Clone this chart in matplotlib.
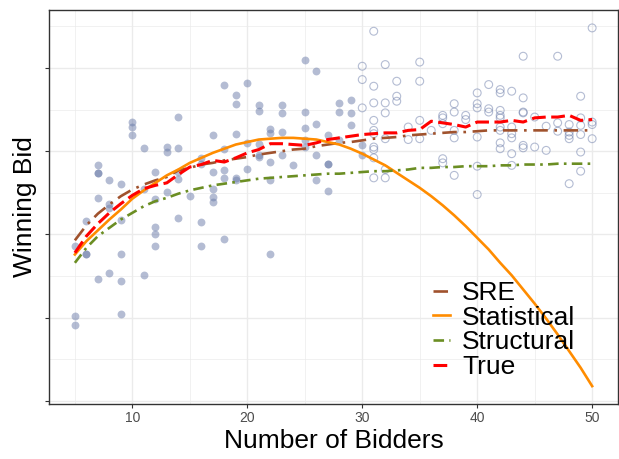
import numpy as np
import matplotlib
matplotlib.use("Agg")
import matplotlib.pyplot as plt

plt.rcParams['font.family'] = ['Liberation Sans', 'DejaVu Sans']

# auction data: winning bid vs number of bidders
filled_x = [5, 5, 5, 6, 6, 6, 7, 7, 7, 7, 7, 8, 8, 8, 8, 9, 9, 9, 9, 9,
            10, 10, 10, 11, 11, 11, 12, 12, 12, 12, 12, 13, 13, 13,
            14, 14, 14, 14, 14, 15, 16, 16, 16, 16, 17, 17, 17, 17, 17,
            18, 18, 18, 18, 18, 19, 19, 19, 19, 19, 20, 20, 20,
            21, 21, 21, 21, 21, 22, 22, 22, 22, 22, 23, 23, 23, 23, 24,
            25, 25, 25, 25, 25, 26, 26, 26, 26, 27, 27, 27, 27,
            28, 28, 28, 29, 29, 29, 30, 30]
filled_y = [1.86, 1.02, 0.91, 2.16, 1.77, 1.77, 2.84, 2.74, 2.74, 2.44, 1.46,
            2.65, 2.37, 2.32, 1.54, 2.61, 2.18, 1.76, 1.44, 1.04,
            3.35, 3.29, 3.19, 3.04, 2.55, 1.51, 2.75, 2.43, 2.09, 2.00, 1.86,
            3.05, 2.99, 2.51, 3.41, 3.04, 2.75, 2.67, 2.20, 2.46,
            2.92, 2.85, 2.15, 1.86, 3.19, 2.75, 2.55, 2.45, 2.39,
            3.80, 3.03, 2.77, 2.68, 1.94, 3.67, 3.57, 3.21, 2.68, 2.65,
            3.82, 3.10, 2.79, 3.56, 3.48, 3.09, 2.95, 2.93,
            3.27, 3.22, 2.87, 2.66, 1.77, 3.56, 3.46, 3.23, 2.95, 2.83,
            4.10, 3.47, 3.28, 3.14, 3.05, 3.96, 3.33, 2.96, 2.66,
            3.20, 2.85, 2.85, 2.52, 3.58, 3.47, 3.14, 3.61, 3.46, 3.32,
            3.08, 2.95]

hollow_x = [30, 30, 30, 31, 31, 31, 31, 31, 31, 31, 31, 31, 31,
            32, 32, 32, 32, 32, 32, 33, 33, 33, 34, 34, 35, 35, 35, 35, 36,
            37, 37, 37, 37, 37, 38, 38, 38, 38, 38, 39, 39,
            40, 40, 40, 40, 40, 40, 41, 41, 41,
            42, 42, 42, 42, 42, 42, 42, 42, 42, 43, 43, 43, 43, 43, 43,
            44, 44, 44, 44, 44, 44, 45, 45, 46, 46, 47, 47, 47,
            48, 48, 48, 48, 48, 49, 49, 49, 49, 49, 49, 50, 50, 50, 50]
hollow_y = [4.02, 3.86, 3.52, 4.44, 3.78, 3.58, 3.37, 3.25, 3.21, 3.05, 3.02, 2.92, 2.68,
            4.04, 3.58, 3.46, 3.15, 2.78, 2.68, 3.84, 3.66, 3.60, 3.29, 3.14,
            4.07, 3.84, 3.37, 3.15, 3.25,
            3.43, 3.40, 3.33, 2.91, 2.86, 3.57, 3.47, 3.25, 3.16, 2.71, 3.43, 3.38,
            3.70, 3.57, 3.52, 3.17, 2.82, 2.48, 3.80, 3.51, 3.47,
            3.74, 3.70, 3.49, 3.43, 3.40, 3.29, 3.25, 3.10, 3.03,
            3.72, 3.29, 3.21, 3.16, 2.97, 2.83,
            4.14, 3.64, 3.47, 3.46, 3.07, 3.04, 3.41, 3.05, 3.30, 3.01,
            4.14, 3.34, 3.24, 3.32, 3.23, 3.19, 3.15, 2.61,
            3.66, 3.40, 3.31, 3.20, 2.99, 2.76, 4.48, 3.35, 3.32, 3.15]

# fitted curves, one value per number of bidders (5..50)
bidders = np.arange(5, 51)
sre = [1.93, 2.11, 2.25, 2.36, 2.46, 2.54, 2.60, 2.65, 2.69, 2.77,
       2.80, 2.84, 2.86, 2.89, 2.91, 2.93, 2.96, 2.98, 3.00, 3.02,
       3.03, 3.06, 3.08, 3.10, 3.11, 3.13, 3.15, 3.16, 3.17, 3.19,
       3.20, 3.21, 3.22, 3.23, 3.23, 3.24, 3.25, 3.25, 3.25, 3.25,
       3.25, 3.25, 3.25, 3.25, 3.25, 3.25]
statistical = [1.76, 1.92, 2.05, 2.18, 2.30, 2.43, 2.53, 2.62, 2.71, 2.78,
               2.86, 2.92, 2.98, 3.03, 3.08, 3.11, 3.14, 3.15, 3.16, 3.16,
               3.15, 3.14, 3.11, 3.08, 3.03, 2.97, 2.90, 2.83, 2.74, 2.65,
               2.56, 2.46, 2.35, 2.23, 2.10, 1.96, 1.82, 1.66, 1.51, 1.34,
               1.17, 0.99, 0.80, 0.60, 0.40, 0.18]
structural = [1.66, 1.84, 1.98, 2.08, 2.18, 2.26, 2.34, 2.40, 2.44, 2.49,
              2.53, 2.56, 2.59, 2.61, 2.63, 2.65, 2.67, 2.68, 2.69, 2.70,
              2.71, 2.72, 2.73, 2.73, 2.74, 2.75, 2.76, 2.76, 2.77, 2.78,
              2.80, 2.80, 2.81, 2.81, 2.82, 2.82, 2.82, 2.83, 2.83, 2.84,
              2.84, 2.84, 2.85, 2.85, 2.85, 2.85]
true_bid = [1.78, 1.98, 2.13, 2.26, 2.37, 2.47, 2.55, 2.59, 2.62, 2.72,
            2.81, 2.84, 2.89, 2.87, 2.92, 2.98, 3.02, 3.09, 3.09, 3.08,
            3.07, 3.10, 3.14, 3.16, 3.18, 3.20, 3.21, 3.22, 3.22, 3.25,
            3.26, 3.36, 3.34, 3.32, 3.29, 3.35, 3.35, 3.35, 3.37, 3.35,
            3.40, 3.41, 3.41, 3.43, 3.37, 3.38]

fig = plt.figure(figsize=(6.19, 4.59), dpi=100)
ax = fig.add_axes([0.0792, 0.1198, 0.9192, 0.8584])

pt_col = '#6A7BA8'
ax.scatter(filled_x, filled_y, s=32, color=pt_col, alpha=0.5, linewidths=0, zorder=2)
ax.scatter(hollow_x, hollow_y, s=32, facecolors='none', edgecolors=pt_col,
           alpha=0.5, linewidths=0.8, zorder=2)

ax.plot(bidders, sre, color='#A0522D', lw=1.9, ls=(0, (5.5, 2.5, 1, 2.5)), label='SRE', zorder=3)
ax.plot(bidders, statistical, color='#FF8C00', lw=1.9, label='Statistical', zorder=3)
ax.plot(bidders, structural, color='#6B8E23', lw=1.9, ls=(0, (4, 2, 1, 2)), label='Structural', zorder=3)
ax.plot(bidders, true_bid, color='#FF0000', lw=2.2, ls=(0, (4.5, 1.8)), label='True', zorder=4)

ax.set_xlim(2.75, 52.25)
ax.set_ylim(-0.035, 4.695)
ax.set_xticks([10, 20, 30, 40, 50])
ax.set_xticks([5, 15, 25, 35, 45], minor=True)
ax.set_yticks([0, 1, 2, 3, 4])
ax.set_yticks([0.5, 1.5, 2.5, 3.5, 4.5], minor=True)
ax.set_yticklabels([])
ax.tick_params(which='major', length=3, width=0.8, color='#333333',
               labelsize=10, labelcolor='#4D4D4D', pad=2)
ax.tick_params(which='minor', length=0)
ax.grid(which='major', color='#EBEBEB', lw=1.0)
ax.grid(which='minor', color='#EBEBEB', lw=0.5)
ax.set_axisbelow(True)
for sp in ax.spines.values():
    sp.set_color('#333333')
    sp.set_linewidth(1.0)

ax.set_xlabel('Number of Bidders', fontsize=19, labelpad=3)
ax.set_ylabel('Winning Bid', fontsize=19, labelpad=4)

leg = ax.legend(loc='center left', bbox_to_anchor=(0.6995, 0.281),
                bbox_transform=fig.transFigure, frameon=False, fontsize=19,
                handlelength=0.65, handletextpad=0.45, labelspacing=0.03,
                borderpad=0, borderaxespad=0)

fig.savefig('out.png', dpi=100)
